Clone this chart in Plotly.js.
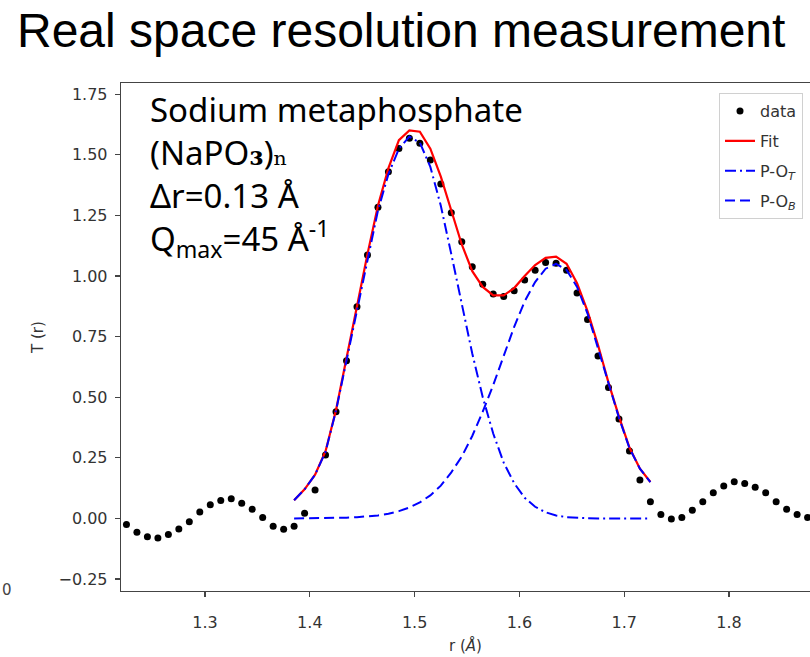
<!DOCTYPE html>
<html>
<head>
<meta charset="utf-8">
<script src="https://cdn.plot.ly/plotly-3.0.1.min.js"></script>
<style>html,body{margin:0;padding:0;background:#fff;}#chart{width:810px;height:657px;}</style>
</head>
<body>
<div id="chart"></div>
<script>
// Measured data T(r)
const rData = [1.225,1.235,1.245,1.255,1.265,1.275,1.285,1.295,1.305,1.315,1.325,1.335,1.345,1.355,1.365,1.375,1.385,1.395,1.405,1.415,1.425,1.435,1.445,1.455,1.465,1.475,1.485,1.495,1.505,1.515,1.525,1.535,1.545,1.555,1.565,1.575,1.585,1.595,1.605,1.615,1.625,1.635,1.645,1.655,1.665,1.675,1.685,1.695,1.705,1.715,1.725,1.735,1.745,1.755,1.765,1.775,1.785,1.795,1.805,1.815,1.825,1.835,1.845,1.855,1.865,1.875];
const tData = [-0.025,-0.057,-0.076,-0.081,-0.066,-0.044,-0.014,0.026,0.056,0.074,0.081,0.062,0.038,0.004,-0.032,-0.045,-0.032,0.021,0.117,0.261,0.44,0.65,0.873,1.086,1.283,1.43,1.526,1.568,1.547,1.478,1.379,1.261,1.141,1.038,0.966,0.926,0.915,0.939,0.983,1.024,1.056,1.052,1.024,0.93,0.82,0.67,0.54,0.41,0.278,0.158,0.069,0.016,-0.003,0.004,0.034,0.069,0.106,0.134,0.151,0.144,0.128,0.106,0.069,0.038,0.016,0.004];

// Fit and components
const rFit = [1.385,1.395,1.405,1.415,1.425,1.435,1.445,1.455,1.465,1.475,1.485,1.495,1.505,1.515,1.525,1.535,1.545,1.555,1.565,1.575,1.585,1.595,1.605,1.615,1.625,1.635,1.645,1.655,1.665,1.675,1.685,1.695,1.705,1.715,1.725];
const fitVals = [0.075,0.12,0.18,0.277,0.447,0.655,0.875,1.09,1.29,1.445,1.56,1.60,1.595,1.525,1.41,1.27,1.13,1.02,0.955,0.92,0.92,0.95,1.0,1.045,1.075,1.08,1.05,0.97,0.855,0.715,0.56,0.42,0.292,0.205,0.15];
const poT = [0.075,0.12,0.18,0.275,0.445,0.65,0.865,1.075,1.27,1.42,1.525,1.575,1.55,1.45,1.29,1.09,0.88,0.68,0.50,0.35,0.23,0.145,0.085,0.048,0.025,0.012,0.005,0.002,0.001,0,0,0,0,0,0];
const poB = [0.0,0.0,0.001,0.001,0.002,0.003,0.005,0.008,0.012,0.019,0.030,0.045,0.066,0.095,0.135,0.19,0.255,0.34,0.44,0.55,0.67,0.79,0.895,0.975,1.03,1.05,1.025,0.955,0.845,0.705,0.555,0.415,0.29,0.205,0.15];

const xTicks = [1.3,1.4,1.5,1.6,1.7,1.8];
const yTicks = [-0.25,0,0.25,0.5,0.75,1.0,1.25,1.5,1.75];

const traces = [
  {x:rData, y:tData, type:'scatter', mode:'markers', name:'data', legendgroup:'a',
   marker:{color:'#000', size:7}},
  {x:rFit, y:fitVals, type:'scatter', mode:'lines', name:'Fit', legendgroup:'b',
   line:{color:'#ff0000', width:2.2}},
  {x:rFit, y:poT, type:'scatter', mode:'lines', name:'P-O<sub><i>T</i></sub>', legendgroup:'c',
   line:{color:'#0000ff', width:2, dash:'11px,4px,2px,4px'}},
  {x:rFit, y:poB, type:'scatter', mode:'lines', name:'P-O<sub><i>B</i></sub>', legendgroup:'d',
   line:{color:'#0000ff', width:2, dash:'10px,5px'}}
];

const tickFont = {family:'DejaVu Sans', size:16, color:'#333'};
const titleFont = {family:'DejaVu Sans', size:15, color:'#333'};

const layout = {
  width:810, height:657,
  margin:{l:121, r:0, t:83, b:66, pad:0},
  paper_bgcolor:'#fff', plot_bgcolor:'#fff',
  showlegend:true,
  title:{text:'Real space resolution measurement', font:{family:'Liberation Sans, Arial', size:48, color:'#000'},
         x:17/810, xanchor:'left', xref:'container', y:1-30/657, yanchor:'middle', yref:'container'},
  xaxis:{range:[1.2198,1.8773], tickvals:xTicks, ticktext:xTicks.map(v=>v.toFixed(1)),
         showline:true, mirror:true, linecolor:'#444', linewidth:1.3,
         ticks:'outside', ticklen:5, tickcolor:'#444', tickwidth:1.2, ticklabelstandoff:11,
         showgrid:false, zeroline:false, tickfont:tickFont,
         title:{text:'r (<i>Å</i>)', font:titleFont, standoff:10}},
  yaxis:{range:[-0.2995,1.796], tickvals:yTicks, ticktext:yTicks.map(v=>(v<0?'\u2212':'')+Math.abs(v).toFixed(2)),
         showline:true, mirror:false, linecolor:'#444', linewidth:1.3,
         ticks:'outside', ticklen:5, tickcolor:'#444', tickwidth:1.2, ticklabelstandoff:4,
         showgrid:false, zeroline:false, tickfont:tickFont,
         title:{text:'T (r)', font:titleFont, standoff:11}},
  legend:{x:(803-121)/689, xanchor:'right', y:0.98, yanchor:'top', xref:'paper', yref:'paper',
          bgcolor:'#fff', bordercolor:'#d0d0d0', borderwidth:1,
          font:{family:'DejaVu Sans', size:16, color:'#333'}, tracegroupgap:6, traceorder:'grouped'},
  annotations:[
    {xref:'paper', yref:'paper', x:(148-121)/689, y:0.996, xanchor:'left', yanchor:'top', align:'left', showarrow:false,
     font:{family:'Noto Sans', size:33, color:'#000'},
     text:'Sodium metaphosphate<br>(NaPO<span style="font-family:\'DejaVu Serif\';font-weight:bold">₃</span>)<span style="font-family:\'DejaVu Serif\'">ₙ</span><br>Δr=0.13 Å<br>Q<sub>max</sub>=45 Å<sup>-1</sup>'},
    {xref:'paper', yref:'paper', x:(0-121)/689, y:1-(590-83)/508, xanchor:'left', yanchor:'middle', showarrow:false,
     font:{family:'DejaVu Sans', size:15, color:'#444'}, text:'0'}
  ]
};

Plotly.newPlot('chart', traces, layout, {displayModeBar:false, staticPlot:true});
</script>
</body>
</html>
